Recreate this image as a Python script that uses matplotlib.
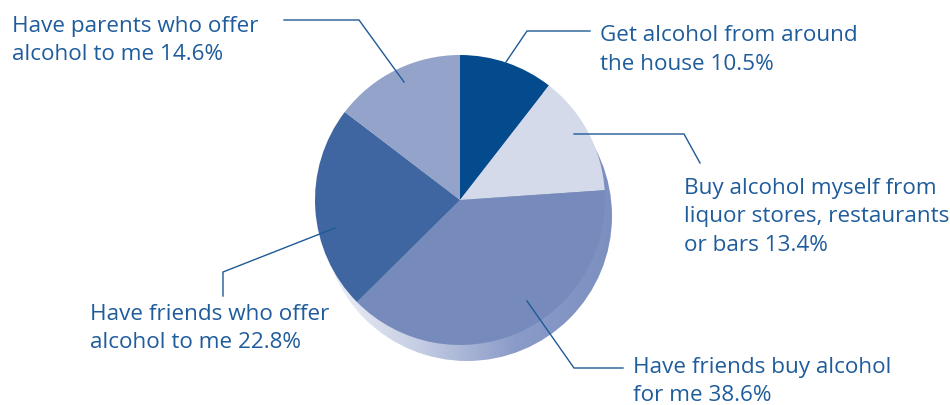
import matplotlib
matplotlib.use("Agg")
import matplotlib.pyplot as plt
import numpy as np
from matplotlib.patches import Circle
from matplotlib.colors import LinearSegmentedColormap

categories = [
    "Get alcohol from around\nthe house",
    "Buy alcohol myself from\nliquor stores, restaurants\nor bars",
    "Have friends buy alcohol\nfor me",
    "Have friends who offer\nalcohol to me",
    "Have parents who offer\nalcohol to me",
]
values = [10.5, 13.4, 38.6, 22.8, 14.6]
colors = ["#034b8c", "#d4dae9", "#768bbc", "#3f66a1", "#93a3ca"]

W, H = 950, 406
fig = plt.figure(figsize=(W / 100, H / 100), dpi=100)
ax = fig.add_axes([0, 0, 1, 1])

def Y(p):
    return H - p

cx, cy, R = 460, Y(201), 145

# shadow disc with horizontal gradient
shadow = Circle((cx + 7, cy - 16), R, transform=ax.transData, facecolor="none", edgecolor="none")
ax.add_patch(shadow)
grad = np.linspace(0, 1, 256)[None, :]
cmap = LinearSegmentedColormap.from_list("sh", ["#f2f4fa", "#c5cde3", "#8a9bc8", "#7c90c0"])
im = ax.imshow(grad, extent=(cx + 7 - R, cx + 7 + R, cy - 16 - R, cy - 16 + R),
               cmap=cmap, aspect="auto", zorder=1, interpolation="bilinear")
im.set_clip_path(shadow)

wedges, _ = ax.pie(values, colors=colors, startangle=90, counterclock=False,
                   center=(cx, cy), radius=R, frame=True,
                   wedgeprops=dict(linewidth=0))
for w in wedges:
    w.set_zorder(2)

ax.set_xlim(0, W)
ax.set_ylim(0, H)
ax.set_aspect("equal")
ax.axis("off")

txt_color = "#1f5c9c"
line_color = "#1f5a96"
font = dict(family=["Open Sans", "DejaVu Sans"], fontsize=16.2, color=txt_color,
            va="baseline", ha="left")

labels = [f"{c} {v}%" for c, v in zip(categories, values)]
text_pos = [(600, 41), (684, 194), (633, 373), (90, 320), (12, 32)]
for lab, (x, y) in zip(labels, text_pos):
    for i, line in enumerate(lab.split("\n")):
        ax.text(x, Y(y + i * 28.5), line, **font)

leaders = [
    [(590, 32), (527, 32), (506, 63)],
    [(574, 135), (684, 135), (700, 164)],
    [(527, 302), (574, 369), (623, 369)],
    [(223, 297), (223, 273), (335, 229)],
    [(284, 21), (359, 21), (404, 83)],
]
for pts in leaders:
    xs = [p[0] for p in pts]
    ys = [Y(p[1]) for p in pts]
    ax.plot(xs, ys, color=line_color, lw=1.0, zorder=3, solid_joinstyle="miter")

fig.savefig("out.png", dpi=100)
